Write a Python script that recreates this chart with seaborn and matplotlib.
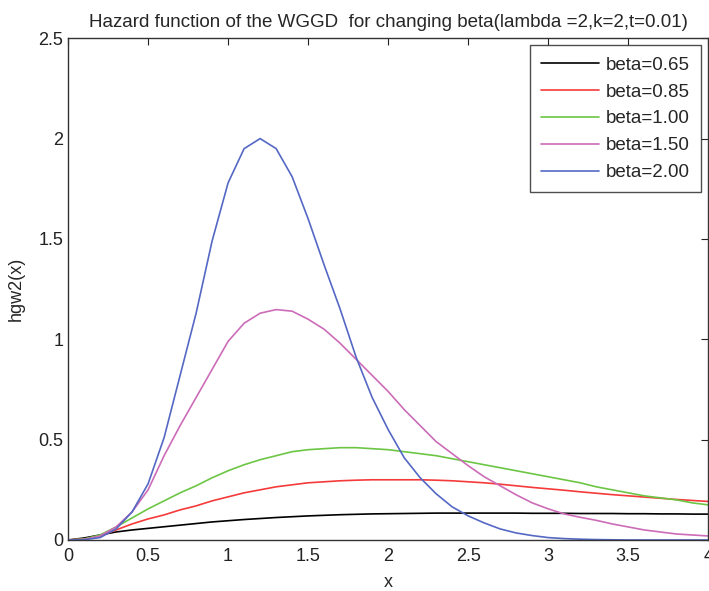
import matplotlib
matplotlib.use("Agg")
import matplotlib.pyplot as plt
import numpy as np
import pandas as pd
import seaborn as sns

# x grid (step 0.1)
x = [0.0, 0.1, 0.2, 0.3, 0.4, 0.5, 0.6, 0.7, 0.8, 0.9,
     1.0, 1.1, 1.2, 1.3, 1.4, 1.5, 1.6, 1.7, 1.8, 1.9,
     2.0, 2.1, 2.2, 2.3, 2.4, 2.5, 2.6, 2.7, 2.8, 2.9,
     3.0, 3.1, 3.2, 3.3, 3.4, 3.5, 3.6, 3.7, 3.8, 3.9, 4.0]

beta_labels = ['beta=0.65', 'beta=0.85', 'beta=1.00', 'beta=1.50', 'beta=2.00']

h_065 = [0.0, 0.01, 0.025, 0.04, 0.05, 0.058, 0.066, 0.074, 0.082, 0.09,
         0.096, 0.102, 0.107, 0.112, 0.116, 0.12, 0.123, 0.126, 0.128, 0.13,
         0.131, 0.132, 0.133, 0.134, 0.134, 0.134, 0.134, 0.134, 0.134, 0.133,
         0.133, 0.133, 0.132, 0.132, 0.132, 0.131, 0.131, 0.130, 0.130, 0.129, 0.129]
h_085 = [0.0, 0.005, 0.02, 0.05, 0.08, 0.105, 0.125, 0.15, 0.17, 0.195,
         0.215, 0.235, 0.25, 0.265, 0.275, 0.285, 0.29, 0.295, 0.298, 0.30,
         0.30, 0.30, 0.30, 0.298, 0.295, 0.29, 0.285, 0.278, 0.27, 0.262,
         0.255, 0.248, 0.24, 0.233, 0.226, 0.22, 0.214, 0.208, 0.202, 0.197, 0.192]
h_100 = [0.0, 0.005, 0.025, 0.065, 0.11, 0.155, 0.195, 0.235, 0.27, 0.31,
         0.345, 0.375, 0.40, 0.42, 0.44, 0.45, 0.455, 0.46, 0.46, 0.455,
         0.45, 0.44, 0.43, 0.42, 0.405, 0.39, 0.375, 0.36, 0.345, 0.33,
         0.315, 0.30, 0.285, 0.265, 0.25, 0.235, 0.22, 0.21, 0.20, 0.185, 0.175]
h_150 = [0.0, 0.003, 0.02, 0.065, 0.14, 0.25, 0.42, 0.57, 0.71, 0.85,
         0.99, 1.08, 1.13, 1.148, 1.14, 1.10, 1.05, 0.98, 0.90, 0.82,
         0.74, 0.65, 0.57, 0.49, 0.43, 0.37, 0.315, 0.27, 0.225, 0.185,
         0.155, 0.13, 0.113, 0.098, 0.08, 0.065, 0.05, 0.04, 0.03, 0.025, 0.02]
h_200 = [0.0, 0.001, 0.012, 0.055, 0.14, 0.28, 0.51, 0.82, 1.13, 1.49,
         1.78, 1.95, 2.00, 1.95, 1.81, 1.60, 1.37, 1.15, 0.91, 0.71,
         0.55, 0.41, 0.31, 0.23, 0.165, 0.12, 0.085, 0.055, 0.035, 0.022,
         0.012, 0.007, 0.004, 0.002, 0.001, 0.0, 0.0, 0.0, 0.0, 0.0, 0.0]

line_colors = ['#000000', '#f53a3a', '#6cc644', '#cc6cb8', '#5468c4']

df = pd.DataFrame({
    'x': x * 5,
    'h': h_065 + h_085 + h_100 + h_150 + h_200,
    'beta': [b for b in beta_labels for _ in x],
})

sns.set_style('white')
plt.rcParams['font.family'] = ['Liberation Sans', 'DejaVu Sans']

fig = plt.figure(figsize=(7.09, 5.91), dpi=100)
ax = fig.add_axes([0.096, 0.0863, 0.903, 0.849])

sns.lineplot(data=df, x='x', y='h', hue='beta', palette=line_colors,
             linewidth=1.2, ax=ax)

ax.set_xlim(0, 4)
ax.set_ylim(0, 2.5)
ax.set_xticks([0, 0.5, 1, 1.5, 2, 2.5, 3, 3.5, 4])
ax.set_xticklabels(['0', '0.5', '1', '1.5', '2', '2.5', '3', '3.5', '4'])
ax.set_yticks([0, 0.5, 1, 1.5, 2, 2.5])
ax.set_yticklabels(['0', '0.5', '1', '1.5', '2', '2.5'])
ax.tick_params(direction='in', length=5, width=0.8, labelsize=13,
               top=True, right=True, colors='#222222')
ax.tick_params(axis='x', pad=6)
for s in ax.spines.values():
    s.set_color('#333333')
    s.set_linewidth(1.0)

ax.set_title('Hazard function of the WGGD  for changing beta(lambda =2,k=2,t=0.01)',
             fontsize=13.5, pad=8)
ax.set_xlabel('x', fontsize=13, labelpad=6)
ax.set_ylabel('hgw2(x)', fontsize=13, labelpad=10)

leg = ax.legend(loc='upper right', bbox_to_anchor=(0.989, 0.986), fontsize=13.5,
                frameon=True, fancybox=False, edgecolor='#222222',
                handlelength=3.1, handletextpad=0.35, borderpad=0.6,
                labelspacing=0.52, borderaxespad=0.0)
leg.get_frame().set_linewidth(1.0)

fig.savefig('out.png', dpi=100)
